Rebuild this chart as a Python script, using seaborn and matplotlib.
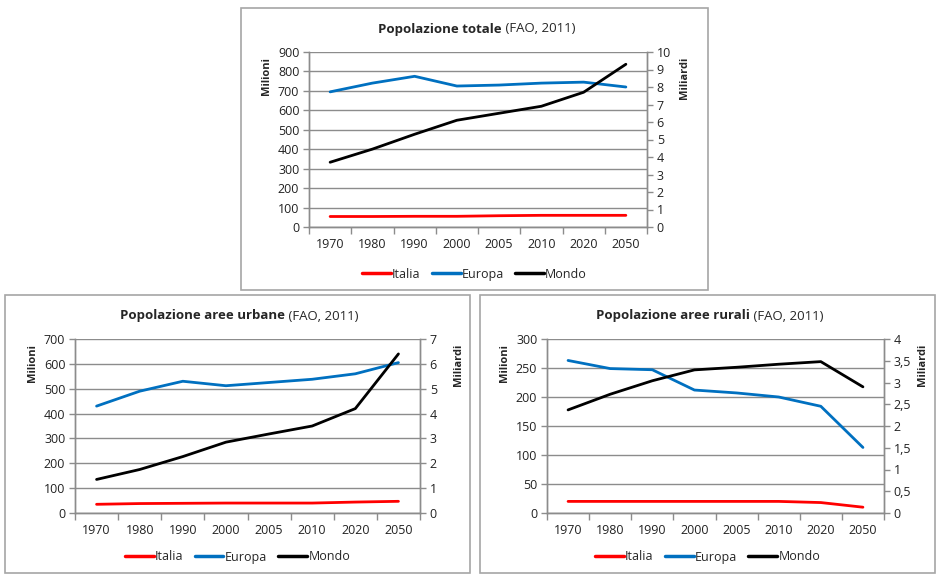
import pandas as pd
import numpy as np
import matplotlib.pyplot as plt
import matplotlib.ticker as mticker
from matplotlib.lines import Line2D
from matplotlib.patches import Rectangle
import seaborn as sns

sns.set_theme(style="white")
plt.rcParams['font.family'] = ['Open Sans', 'DejaVu Sans']

years = ['1970', '1980', '1990', '2000', '2005', '2010', '2020', '2050']

# Popolazione totale
tot_italia = [54, 54, 55, 55, 58, 60, 60, 60]
tot_europa = [695, 740, 775, 725, 730, 740, 745, 720]
tot_mondo = [3.7, 4.45, 5.3, 6.1, 6.5, 6.9, 7.7, 9.3]

# Popolazione aree urbane
urb_italia = [35, 38, 39, 40, 40, 40, 44, 47]
urb_europa = [430, 490, 530, 512, 525, 538, 560, 605]
urb_mondo = [1.35, 1.75, 2.27, 2.85, 3.18, 3.5, 4.2, 6.4]

# Popolazione aree rurali
rur_italia = [20, 20, 20, 20, 20, 20, 18, 10]
rur_europa = [263, 249, 247, 212, 207, 200, 184, 113]
rur_mondo = [2.37, 2.73, 3.04, 3.29, 3.35, 3.42, 3.48, 2.9]

colors = {'Italia': '#ff0000', 'Europa': '#0070c0', 'Mondo': '#000000'}
GRID = '#8c8c8c'
W, H = 939, 574

fig = plt.figure(figsize=(W / 100, H / 100), dpi=100)


def px_axes(left, top, right, bottom):
    return fig.add_axes([left / W, 1 - bottom / H, (right - left) / W, (bottom - top) / H])


def fmt_comma(v, pos):
    return ('%g' % v).replace('.', ',')


def draw_panel(box, area, title_bold, italia, europa, mondo, lmax, lstep, rmax, rstep, comma=False):
    x0, y0, x1, y1 = box
    fig.patches.append(Rectangle((x0 / W, 1 - y1 / H), (x1 - x0) / W, (y1 - y0) / H,
                                 transform=fig.transFigure, fill=False,
                                 edgecolor='#a6a6a6', linewidth=1.2))
    ax = px_axes(*area)
    df = pd.DataFrame({'valore': italia + europa,
                       'serie': ['Italia'] * 8 + ['Europa'] * 8})
    df['pos'] = list(range(8)) * 2
    sns.lineplot(data=df, x='pos', y='valore', hue='serie', palette=colors,
                 linewidth=2.0, ax=ax, legend=False)
    ax2 = ax.twinx()
    dm = pd.DataFrame({'pos': range(8), 'valore': mondo})
    sns.lineplot(data=dm, x='pos', y='valore', color=colors['Mondo'], linewidth=2.0, ax=ax2)

    ax.set_xlim(-0.5, 7.5)
    ax.set_ylim(0, lmax)
    ax2.set_ylim(0, rmax)
    ax.set_yticks(np.arange(0, lmax + 1e-9, lstep))
    ax2.set_yticks(np.arange(0, rmax + 1e-9, rstep))
    if comma:
        ax2.yaxis.set_major_formatter(mticker.FuncFormatter(fmt_comma))
    else:
        ax2.yaxis.set_major_formatter(mticker.FuncFormatter(lambda v, p: '%g' % v))
    ax.set_xticks(range(8))
    ax.set_xticklabels(years)
    ax.set_xticks(np.arange(-0.5, 8, 1), minor=True)
    ax.tick_params(axis='x', which='major', length=0, pad=8, labelsize=9, colors='#222222')
    ax.tick_params(axis='x', which='minor', length=5, width=1, color=GRID, bottom=True)
    ax.tick_params(axis='y', length=4, width=1, color=GRID, left=True, labelsize=9,
                   pad=3, labelcolor='#222222')
    ax2.tick_params(axis='y', length=4, width=1, color=GRID, right=True, labelsize=9,
                    pad=3, labelcolor='#222222')
    ax.grid(axis='y', color=GRID, linewidth=1)
    ax.grid(axis='x', visible=False)
    ax2.grid(False)
    for a in (ax, ax2):
        a.set_xlabel('')
        a.set_ylabel('')
        a.spines['top'].set_visible(False)
        for s in ('left', 'right', 'bottom'):
            a.spines[s].set_color(GRID)
            a.spines[s].set_linewidth(1)

    # axis titles
    fig.text((area[0] - 42) / W, 1 - (area[1] + 5) / H, 'Milioni', rotation=90,
             ha='center', va='top', fontsize=8, fontweight='bold')
    fig.text((area[2] + 38) / W, 1 - (area[1] + 5) / H, 'Miliardi', rotation=90,
             ha='center', va='top', fontsize=8, fontweight='bold')

    # title: bold part + normal part
    cx = (x0 + x1) / 2 + 2
    ty = 1 - (y0 + 21) / H
    t1 = fig.text(0, ty, title_bold, fontsize=9.5, fontweight='bold', va='center', ha='left')
    t2 = fig.text(0, ty, ' (FAO, 2011)', fontsize=9.5, va='center', ha='left')
    r = fig.canvas.get_renderer()
    w1 = t1.get_window_extent(r).width
    w2 = t2.get_window_extent(r).width
    start = cx - (w1 + w2) / 2
    t1.set_x(start / W)
    t2.set_x((start + w1) / W)

    handles = [Line2D([], [], color=colors[k], linewidth=2.5) for k in ['Italia', 'Europa', 'Mondo']]
    fig.legend(handles, ['Italia', 'Europa', 'Mondo'], loc='center',
               bbox_to_anchor=((x0 + x1) / 2 / W, 1 - (y1 - 16) / H),
               ncol=3, frameon=False, fontsize=9, handlelength=2.3, handletextpad=0.1,
               columnspacing=0.9)


draw_panel((241, 8, 708, 290), (309, 52, 647, 227), 'Popolazione totale',
           tot_italia, tot_europa, tot_mondo, 900, 100, 10, 1)
draw_panel((5, 295, 470, 573), (75, 339, 420, 513), 'Popolazione aree urbane',
           urb_italia, urb_europa, urb_mondo, 700, 100, 7, 1)
draw_panel((480, 295, 935, 573), (547, 339, 884, 513), 'Popolazione aree rurali',
           rur_italia, rur_europa, rur_mondo, 300, 50, 4, 0.5, comma=True)

fig.savefig('out.png', dpi=100)
